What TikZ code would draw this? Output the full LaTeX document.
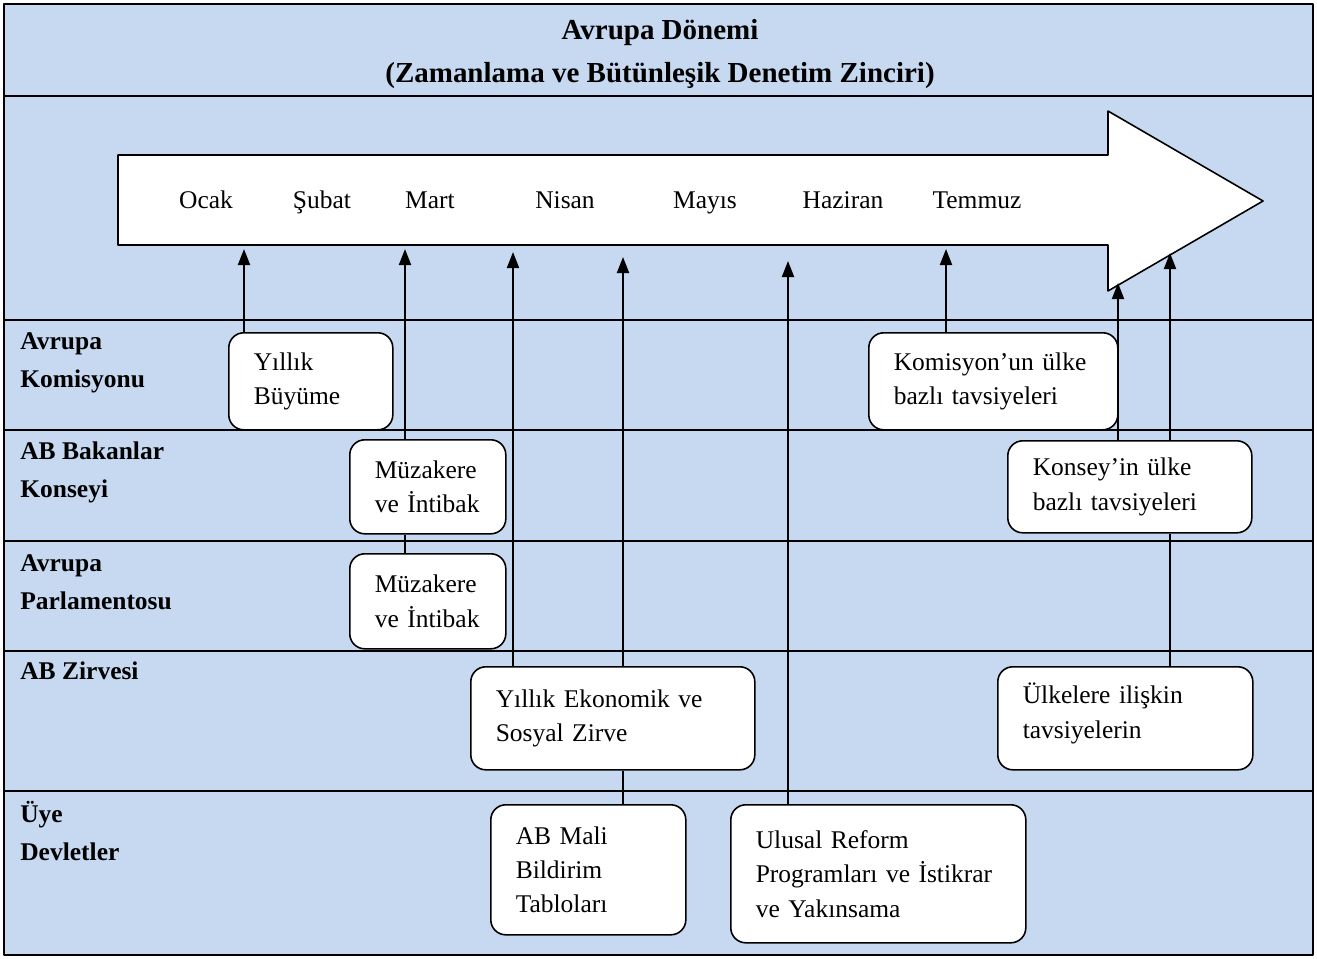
\documentclass[tikz,border=0pt]{standalone}
\usepackage{fontspec}
\setmainfont{Liberation Serif}
\usetikzlibrary{arrows.meta}
\definecolor{laneblue}{RGB}{198,217,240}

\begin{document}
\begin{tikzpicture}[x=0.2mm,y=-0.2mm,>={Triangle[length=3.2mm,width=2.4mm]},line join=round,
		font=\fontsize{14.5}{19.6}\selectfont,
		lane/.style={line width=1.1pt},
		lanename/.style={anchor=base west,inner sep=0pt,align=left,font=\fontsize{14.5}{21.5}\selectfont\bfseries},
		month/.style={anchor=base,inner sep=0pt},
		stage/.style={draw,fill=white,rounded corners=3mm,line width=0.9pt,anchor=north west,inner xsep=5mm,inner ysep=0pt,align=left},
		link/.style={line width=1.1pt}]
	\useasboundingbox (0,0) rectangle (1317,958);
	\fill[laneblue] (4,4) rectangle (1313,955);
	\foreach \ly in {96,320,430,541,651,791}
		\draw[lane] (4,\ly)--(1313,\ly);
	\draw[line width=1.6pt] (4,4) rectangle (1313,955);
	% title
	\node[align=center,font=\fontsize{16.5}{24.6}\selectfont\bfseries] (title) at (660,54) {Avrupa Dönemi\\(Zamanlama ve Bütünleşik Denetim Zinciri)};
	% timeline
	\filldraw[fill=white,line width=0.9pt] (118,155)--(1108,155)--(1108,111)--(1263,201)--(1108,291)--(1108,245)--(118,245)--cycle;
	\node[month] (ocak) at (206,208) {Ocak};
	\node[month] (subat) at (322,208) {Şubat};
	\node[month] (mart) at (430,208) {Mart};
	\node[month] (nisan) at (565,208) {Nisan};
	\node[month] (mayis) at (705,208) {Mayıs};
	\node[month] (haziran) at (843,208) {Haziran};
	\node[month] (temmuz) at (977,208) {Temmuz};
	\coordinate (t-jan) at (244,249);
	\coordinate (t-mar) at (405,249);
	\coordinate (t-apr) at (513,252);
	\coordinate (t-apr2) at (623,257);
	\coordinate (t-may) at (788,261);
	\coordinate (t-jul) at (946,249);
	\coordinate (t-head1) at (1118,283);
	\coordinate (t-head2) at (1170,253);
	% lanes (base = last line)
	\node[lanename] (ec) at (20,387) {Avrupa\\Komisyonu};
	\node[lanename] (council) at (20,497) {AB Bakanlar\\Konseyi};
	\node[lanename] (ep) at (20,609) {Avrupa\\Parlamentosu};
	\node[lanename] (summitlane) at (20,679) {AB Zirvesi};
	\node[lanename] (states) at (20,860) {Üye\\Devletler};
	% boxes
	\node[stage,minimum width=32.8mm,minimum height=19.4mm,text width=22.8mm] (growth) at (228,332) {Yıllık\\Büyüme};
	\node[stage,minimum width=31.2mm,minimum height=18.8mm,text width=21.2mm] (debate1) at (349,439) {Müzakere\\ve~İntibak};
	\node[stage,minimum width=31.2mm,minimum height=19mm,text width=21.2mm] (debate2) at (349,553) {Müzakere\\ve~İntibak};
	\node[stage,minimum width=49.8mm,minimum height=19.4mm,text width=39.8mm] (csr) at (868,332) {Komisyon’un~ülke\\bazlı~tavsiyeleri};
	\node[stage,minimum width=48.8mm,minimum height=18.4mm,text width=38.8mm] (ccsr) at (1007,440) {Konsey’in~ülke\\bazlı~tavsiyeleri};
	\node[stage,minimum width=56.8mm,minimum height=20.6mm,text width=46.8mm] (summit) at (470,666) {Yıllık~Ekonomik~ve\\Sosyal~Zirve};
	\node[stage,minimum width=51mm,minimum height=20.6mm,text width=41mm,text depth=28.5pt] (endorse) at (997,666) {Ülkelere~ilişkin\\tavsiyelerin};
	\node[stage,minimum width=39mm,minimum height=26mm,text width=29mm] (fiscal) at (490,804) {AB~Mali\\Bildirim\\Tabloları};
	\node[stage,minimum width=59mm,minimum height=27.6mm,text width=49mm] (nrp) at (730,804) {Ulusal~Reform\\Programları~ve~İstikrar\\ve~Yakınsama};
	% links
	\draw[link,->] (t-jan |- growth.north) -- (t-jan);
	\draw[link] (t-mar |- debate2.north) -- (t-mar |- debate1.south);
	\draw[link,->] (t-mar |- debate1.north) -- (t-mar);
	\draw[link,->] (t-apr |- summit.north) -- (t-apr);
	\draw[link] (t-apr2 |- fiscal.north) -- (t-apr2 |- summit.south);
	\draw[link,->] (t-apr2 |- summit.north) -- (t-apr2);
	\draw[link,->] (t-may |- nrp.north) -- (t-may);
	\draw[link,->] (t-jul |- csr.north) -- (t-jul);
	\draw[link,->] (t-head1 |- ccsr.north) -- (t-head1);
	\draw[link] (t-head2 |- endorse.north) -- (t-head2 |- ccsr.south);
	\draw[link,->] (t-head2 |- ccsr.north) -- (t-head2);
\end{tikzpicture}
\end{document}
